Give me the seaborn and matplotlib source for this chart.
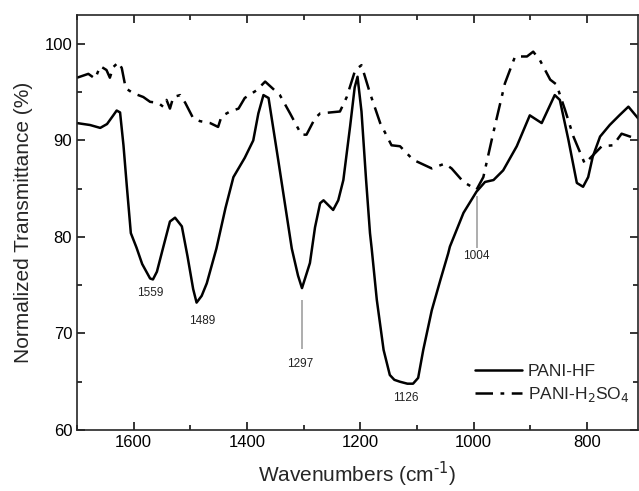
import numpy as np
import pandas as pd
import matplotlib
matplotlib.use("Agg")
import matplotlib.pyplot as plt
import seaborn as sns
from matplotlib.ticker import MultipleLocator

# PANI-HF spectrum (solid)
hf_wn = [1700, 1677, 1659, 1647, 1636, 1630, 1624, 1618, 1612, 1605, 1595, 1585,
         1571, 1566, 1559, 1548, 1536, 1527, 1515, 1505, 1495, 1489, 1480, 1471,
         1454, 1438, 1424, 1404, 1389, 1380, 1371, 1362, 1345, 1321, 1310, 1303,
         1289, 1280, 1271, 1265, 1248, 1239, 1230, 1218, 1210, 1205, 1198, 1190,
         1183, 1180, 1171, 1159, 1148, 1140, 1130, 1117, 1107, 1098, 1089, 1074,
         1059, 1045, 1042, 1018, 995, 980, 965, 948, 924, 901, 880, 857, 848,
         833, 818, 807, 798, 790, 777, 760, 743, 727, 710]
hf_t = [91.8, 91.6, 91.3, 91.7, 92.6, 93.1, 92.9, 89.5, 85.2, 80.4, 78.9, 77.2,
        75.7, 75.6, 76.4, 78.9, 81.6, 82.0, 81.1, 78.0, 74.6, 73.2, 73.9, 75.2,
        78.8, 83.0, 86.2, 88.2, 90.0, 92.8, 94.7, 94.4, 88.0, 78.8, 76.0, 74.7,
        77.3, 81.0, 83.5, 83.8, 82.8, 83.8, 85.9, 91.5, 95.5, 96.6, 93.0, 86.0,
        80.4, 78.8, 73.5, 68.3, 65.7, 65.2, 65.0, 64.8, 64.8, 65.4, 68.3, 72.4,
        75.5, 78.3, 79.0, 82.5, 84.7, 85.7, 85.9, 86.9, 89.4, 92.6, 91.8, 94.7,
        94.2, 90.1, 85.6, 85.2, 86.2, 88.3, 90.4, 91.6, 92.6, 93.5, 92.3]

# PANI-H2SO4 spectrum (dash-dot)
so4_wn = [1700, 1680, 1668, 1659, 1648, 1642, 1636, 1627, 1621, 1614, 1601, 1583,
          1571, 1557, 1548, 1542, 1536, 1530, 1518, 1509, 1495, 1483, 1465, 1451,
          1445, 1430, 1415, 1404, 1383, 1368, 1342, 1324, 1304, 1295, 1280, 1271,
          1236, 1224, 1209, 1198, 1183, 1165, 1145, 1130, 1107, 1074, 1051, 1039,
          1018, 995, 983, 965, 945, 927, 906, 895, 883, 865, 854, 839, 824, 804,
          789, 774, 754, 739, 724, 708]
so4_t = [96.5, 96.9, 96.4, 97.7, 97.3, 96.5, 97.6, 98.1, 97.5, 95.4, 94.9, 94.5,
         94.0, 93.9, 93.5, 94.2, 93.3, 94.5, 94.7, 93.9, 92.3, 92.0, 91.8, 91.4,
         92.5, 93.0, 93.3, 94.4, 95.2, 96.1, 94.7, 92.8, 90.6, 90.6, 92.3, 92.8,
         93.0, 94.5, 97.3, 97.8, 94.9, 91.8, 89.5, 89.4, 88.0, 87.1, 87.6, 87.1,
         85.7, 84.9, 86.2, 90.9, 95.9, 98.7, 98.7, 99.2, 98.3, 96.3, 95.8, 93.2,
         90.4, 87.6, 88.5, 89.4, 89.5, 90.7, 90.4, 90.1]

# peak labels
peak_labels = ["1559", "1489", "1297", "1126", "1004"]
peak_label_x = [1571, 1480, 1306, 1119, 995]
peak_label_y = [74.2, 71.3, 66.8, 63.3, 78.0]

hf = pd.DataFrame({"wn": hf_wn, "T": hf_t})
so4 = pd.DataFrame({"wn": so4_wn, "T": so4_t})

sns.set_style("ticks")
plt.rcParams["font.family"] = ["Liberation Sans", "DejaVu Sans"]

fig, ax = plt.subplots(figsize=(6.39, 4.91), dpi=100)
fig.subplots_adjust(left=0.1205, right=0.9985, bottom=0.1242, top=0.9695)

sns.lineplot(data=hf, x="wn", y="T", ax=ax, color="black", lw=1.8,
             label="PANI-HF", sort=False)
sns.lineplot(data=so4, x="wn", y="T", ax=ax, color="black", lw=1.8,
             label="PANI-H$_2$SO$_4$", sort=False)
ax.lines[1].set_dashes([7, 3, 1.5, 3])

# marker lines for 1297 and 1004
ax.vlines([1303, 995], [68.4, 78.9], [73.5, 84.2], color="#a0a0a0", lw=1.2)
for lab, x, y in zip(peak_labels, peak_label_x, peak_label_y):
    ax.text(x, y, lab, ha="center", va="center", fontsize=8.5, color="#222222")

ax.set_xlim(1700, 710)
ax.set_ylim(60, 103)
ax.xaxis.set_major_locator(MultipleLocator(200))
ax.xaxis.set_minor_locator(MultipleLocator(100))
ax.yaxis.set_major_locator(MultipleLocator(10))
ax.yaxis.set_minor_locator(MultipleLocator(5))
ax.tick_params(which="both", direction="in", top=True, right=True,
               labelsize=12, width=1.1, colors="black")
ax.tick_params(which="major", length=6)
ax.tick_params(which="minor", length=3.5)
for s in ax.spines.values():
    s.set_linewidth(1.2)

ax.set_xlabel("Wavenumbers (cm$^{\\text{-1}}$)", fontsize=15, labelpad=7)
ax.set_ylabel("Normalized Transmittance (%)", fontsize=15, labelpad=8)

leg = ax.legend(loc="lower right", bbox_to_anchor=(1.012, 0.025), frameon=False,
                fontsize=12.5, handlelength=2.7, handletextpad=0.3,
                labelspacing=0.35)

plt.savefig("out.png", dpi=100)
